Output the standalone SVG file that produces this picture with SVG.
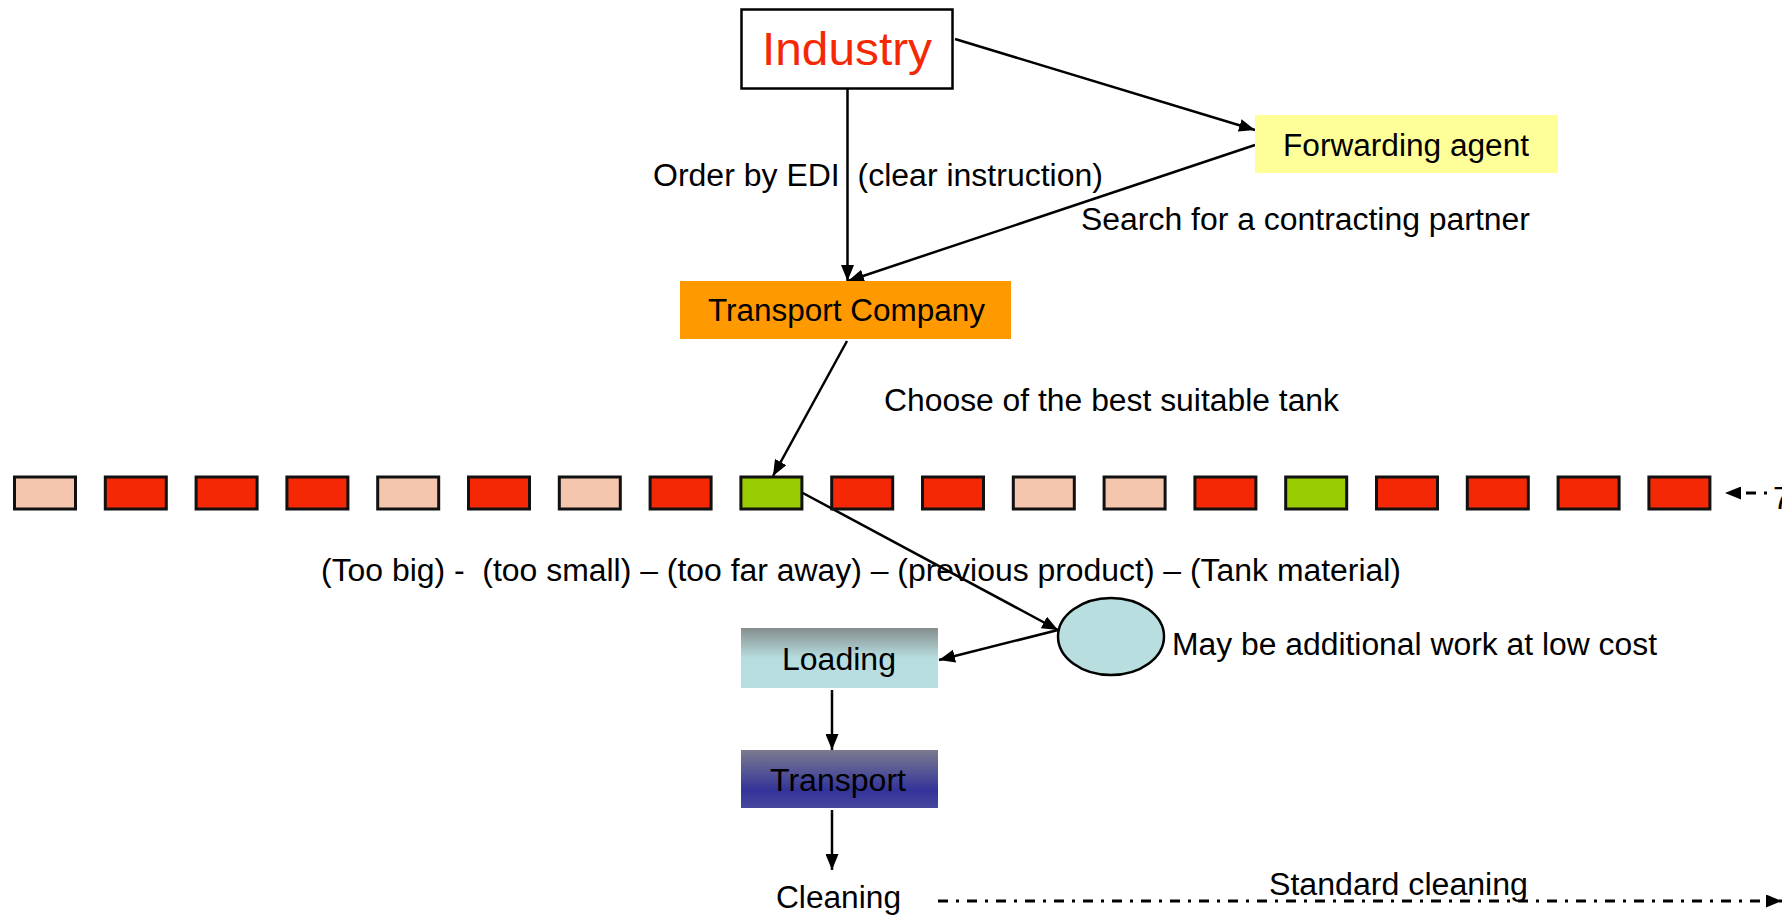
<svg xmlns="http://www.w3.org/2000/svg" width="1782" height="917" viewBox="0 0 1782 917">
<style>
  text { font-family: "Liberation Sans", Arial, sans-serif; fill: #000; white-space: pre; }
  .lbl { font-size: 31px; }
  .conn { stroke: #000; stroke-width: 2.5; fill: none; }
  .dd { stroke: #000; stroke-width: 3; fill: none; }
  .tank { stroke: #111; stroke-width: 3; }
  .red { fill: #F52805; }
  .peach { fill: #F4C6AE; }
  .green { fill: #99CC00; }
</style>
<defs>
  <marker id="ah" viewBox="0 0 16 13" refX="16" refY="6.5" markerWidth="16" markerHeight="13" markerUnits="userSpaceOnUse" orient="auto">
    <path d="M0,0 L16,6.5 L0,13 z" fill="#000"/>
  </marker>
  <linearGradient id="gLoad" x1="0" y1="0" x2="0" y2="1">
    <stop offset="0" stop-color="#868E8E"/>
    <stop offset="0.5" stop-color="#B7DDE0"/>
    <stop offset="1" stop-color="#B9DEE1"/>
  </linearGradient>
  <linearGradient id="gTrans" x1="0" y1="0" x2="0" y2="1">
    <stop offset="0" stop-color="#7B7B8F"/>
    <stop offset="0.7" stop-color="#33339A"/>
    <stop offset="1" stop-color="#48489E"/>
  </linearGradient>
</defs>

<g id="connectors">
  <path class="conn" d="M847.5,86 L847.5,281" marker-end="url(#ah)"/>
  <path class="conn" d="M955,39 L1255,130" marker-end="url(#ah)"/>
  <path class="conn" d="M1255,145 L848,281" marker-end="url(#ah)"/>
  <path class="conn" d="M847,341 L773,476" marker-end="url(#ah)"/>
  <path class="conn" d="M801,492 L1058,630" marker-end="url(#ah)"/>
  <path class="conn" d="M1058,630 L939,660" marker-end="url(#ah)"/>
  <path class="conn" d="M832,690 L832,750" marker-end="url(#ah)"/>
  <path class="conn" d="M832,810 L832,870" marker-end="url(#ah)"/>
  <path class="dd" d="M938,901 L1782,901" stroke-dasharray="10 8 3 8" marker-end="url(#ah)"/>
  <path class="dd" d="M1767,493 L1725,493" stroke-dasharray="3 8 10 30" marker-end="url(#ah)"/>
</g>

<g id="industry">
  <rect x="741.5" y="9.5" width="211" height="79" fill="#fff" stroke="#000" stroke-width="2.5"/>
  <text x="762" y="65" font-size="47" style="fill:#F52805" textLength="170" lengthAdjust="spacingAndGlyphs">Industry</text>
</g>

<g id="forwarding-agent">
  <rect x="1255" y="115" width="303" height="58" fill="#FFFF99"/>
  <text class="lbl" x="1283" y="156" textLength="246" lengthAdjust="spacingAndGlyphs">Forwarding agent</text>
</g>

<g id="transport-company">
  <rect x="680" y="281" width="331" height="58" fill="#FF9900"/>
  <text class="lbl" x="708" y="321" textLength="277" lengthAdjust="spacingAndGlyphs">Transport Company</text>
</g>

<g id="labels">
  <text class="lbl" x="653" y="186" textLength="450" lengthAdjust="spacingAndGlyphs">Order by EDI  (clear instruction)</text>
  <text class="lbl" x="1081" y="230" textLength="449" lengthAdjust="spacingAndGlyphs">Search for a contracting partner</text>
  <text class="lbl" x="884" y="411" textLength="455" lengthAdjust="spacingAndGlyphs">Choose of the best suitable tank</text>
  <text class="lbl" x="321" y="581" textLength="1080" lengthAdjust="spacingAndGlyphs">(Too big) -  (too small) – (too far away) – (previous product) – (Tank material)</text>
  <text class="lbl" x="1172" y="655" textLength="485" lengthAdjust="spacingAndGlyphs">May be additional work at low cost</text>
  <text class="lbl" x="1269" y="895" textLength="259" lengthAdjust="spacingAndGlyphs">Standard cleaning</text>
  <text class="lbl" x="1773" y="509">7</text>
</g>

<g id="tanks">
  <rect class="tank peach" x="14.5" y="477" width="61" height="32"/>
  <rect class="tank red" x="105.3" y="477" width="61" height="32"/>
  <rect class="tank red" x="196.1" y="477" width="61" height="32"/>
  <rect class="tank red" x="286.9" y="477" width="61" height="32"/>
  <rect class="tank peach" x="377.7" y="477" width="61" height="32"/>
  <rect class="tank red" x="468.5" y="477" width="61" height="32"/>
  <rect class="tank peach" x="559.3" y="477" width="61" height="32"/>
  <rect class="tank red" x="650.1" y="477" width="61" height="32"/>
  <rect class="tank green" x="740.9" y="477" width="61" height="32"/>
  <rect class="tank red" x="831.7" y="477" width="61" height="32"/>
  <rect class="tank red" x="922.5" y="477" width="61" height="32"/>
  <rect class="tank peach" x="1013.3" y="477" width="61" height="32"/>
  <rect class="tank peach" x="1104.1" y="477" width="61" height="32"/>
  <rect class="tank red" x="1194.9" y="477" width="61" height="32"/>
  <rect class="tank green" x="1285.7" y="477" width="61" height="32"/>
  <rect class="tank red" x="1376.5" y="477" width="61" height="32"/>
  <rect class="tank red" x="1467.3" y="477" width="61" height="32"/>
  <rect class="tank red" x="1558.1" y="477" width="61" height="32"/>
  <rect class="tank red" x="1648.9" y="477" width="61" height="32"/>
</g>

<g id="extra-work">
  <ellipse cx="1111" cy="636.5" rx="53" ry="38.5" fill="#B8DEE0" stroke="#000" stroke-width="2.5"/>
</g>

<g id="loading">
  <rect x="741" y="628" width="197" height="60" fill="url(#gLoad)"/>
  <text class="lbl" x="782" y="670" textLength="114" lengthAdjust="spacingAndGlyphs">Loading</text>
</g>

<g id="transport">
  <rect x="741" y="750" width="197" height="58" fill="url(#gTrans)"/>
  <text class="lbl" x="770" y="791" textLength="136" lengthAdjust="spacingAndGlyphs">Transport</text>
</g>

<g id="cleaning">
  <text class="lbl" x="776" y="908" textLength="125" lengthAdjust="spacingAndGlyphs">Cleaning</text>
</g>
</svg>
